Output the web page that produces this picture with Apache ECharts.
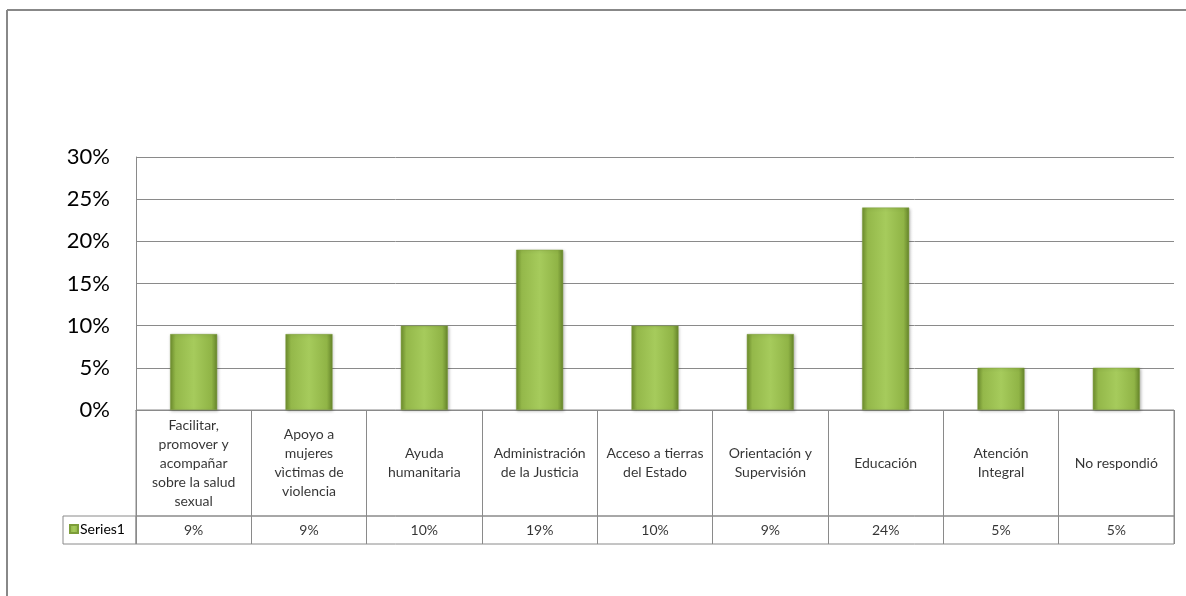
<!DOCTYPE html>
<html>
<head>
<meta charset="utf-8">
<script src="https://cdn.jsdelivr.net/npm/echarts@6/dist/echarts.min.js"></script>
<style>
html,body{margin:0;padding:0;background:#fff;}
#chart{width:1186px;height:596px;}
</style>
</head>
<body>
<div id="chart"></div>
<script>
const categories = [
  "Facilitar,\npromover y\nacompañar\nsobre la salud\nsexual",
  "Apoyo a\nmujeres\nvìctimas de\nviolencia",
  "Ayuda\nhumanitaria",
  "Administración\nde la Justicia",
  "Acceso a tierras\ndel Estado",
  "Orientación y\nSupervisión",
  "Educación",
  "Atención\nIntegral",
  "No respondió"
];
const seriesName = "Series1";
const values = [0.09, 0.09, 0.10, 0.19, 0.10, 0.09, 0.24, 0.05, 0.05];
const yTicks = { min: 0, max: 0.30, interval: 0.05 };

const FONT = "Lato";
const GRAY = "#8a8a8a";
const fmtPct = v => Math.round(v * 100) + "%";

const barColor = new echarts.graphic.LinearGradient(0, 0, 1, 0, [
  { offset: 0, color: "#6f8f2e" },
  { offset: 0.12, color: "#94b84a" },
  { offset: 0.5, color: "#a6cb5c" },
  { offset: 0.88, color: "#90b446" },
  { offset: 1, color: "#65842a" }
]);

const chart = echarts.init(document.getElementById("chart"));
const idx = categories.map((_, i) => i);

const tableXAxis = (gi) => ({
  type: "category", gridIndex: gi, data: categories, boundaryGap: true,
  axisLine: { show: false }, axisTick: { show: false }, axisLabel: { show: false },
  splitLine: { show: true, lineStyle: { color: GRAY, width: 1 } }
});
const tableYAxis = (gi) => ({ type: "value", gridIndex: gi, min: 0, max: 1, show: false });

chart.setOption({
  animation: false,
  backgroundColor: "#ffffff",
  grid: [
    { left: 136, right: 12, top: 157, height: 253 },
    { left: 136, right: 12, top: 410, height: 106, show: true, borderColor: GRAY, borderWidth: 1 },
    { left: 136, right: 12, top: 516, height: 28, show: true, borderColor: GRAY, borderWidth: 1 }
  ],
  xAxis: [
    {
      type: "category", gridIndex: 0, data: categories, boundaryGap: true,
      axisLine: { show: true, lineStyle: { color: GRAY, width: 1 } },
      axisTick: { show: false }, axisLabel: { show: false }
    },
    tableXAxis(1),
    tableXAxis(2)
  ],
  yAxis: [
    {
      type: "value", gridIndex: 0, min: yTicks.min, max: yTicks.max, interval: yTicks.interval,
      axisLine: { show: true, lineStyle: { color: GRAY, width: 1 } },
      axisTick: { show: false },
      splitLine: { show: true, lineStyle: { color: GRAY, width: 1 } },
      axisLabel: { formatter: fmtPct, color: "#000", fontFamily: FONT, fontSize: 22, margin: 26 }
    },
    tableYAxis(1),
    tableYAxis(2)
  ],
  legend: {
    data: [seriesName], left: 69, top: 522, icon: "rect", itemWidth: 8, itemHeight: 8,
    padding: 0, textStyle: { fontFamily: FONT, fontSize: 14, color: "#000", padding: [0, 0, 0, -3] }
  },
  graphic: [
    { type: "rect", shape: { x: 63, y: 516, width: 73, height: 28 }, style: { fill: "none", stroke: GRAY, lineWidth: 1 } },
    { type: "line", shape: { x1: 7, y1: 10, x2: 1186, y2: 10 }, style: { stroke: "#888", lineWidth: 2 } },
    { type: "line", shape: { x1: 7, y1: 10, x2: 7, y2: 596 }, style: { stroke: "#888", lineWidth: 2 } }
  ],
  series: [
    {
      name: seriesName, type: "bar", xAxisIndex: 0, yAxisIndex: 0, data: values, barWidth: 47,
      itemStyle: { color: barColor, borderColor: "#7d9d3a", borderWidth: 0.5,
        shadowColor: "rgba(0,0,0,0.25)", shadowBlur: 3, shadowOffsetX: 1, shadowOffsetY: 1 }
    },
    {
      name: "cats", type: "scatter", xAxisIndex: 1, yAxisIndex: 1, symbolSize: 1,
      itemStyle: { color: "rgba(0,0,0,0)" }, silent: true,
      data: idx.map(i => [i, 0.5]),
      label: { show: true, position: "inside", formatter: p => categories[p.dataIndex],
        fontFamily: FONT, fontSize: 14, lineHeight: 19, color: "#000", align: "center", verticalAlign: "middle" }
    },
    {
      name: "vals", type: "scatter", xAxisIndex: 2, yAxisIndex: 2, symbolSize: 1,
      itemStyle: { color: "rgba(0,0,0,0)" }, silent: true,
      data: idx.map(i => [i, 0.5]),
      label: { show: true, position: "inside", formatter: p => fmtPct(values[p.dataIndex]),
        fontFamily: FONT, fontSize: 14, color: "#000", align: "center", verticalAlign: "middle" }
    }
  ]
});
</script>
</body>
</html>
